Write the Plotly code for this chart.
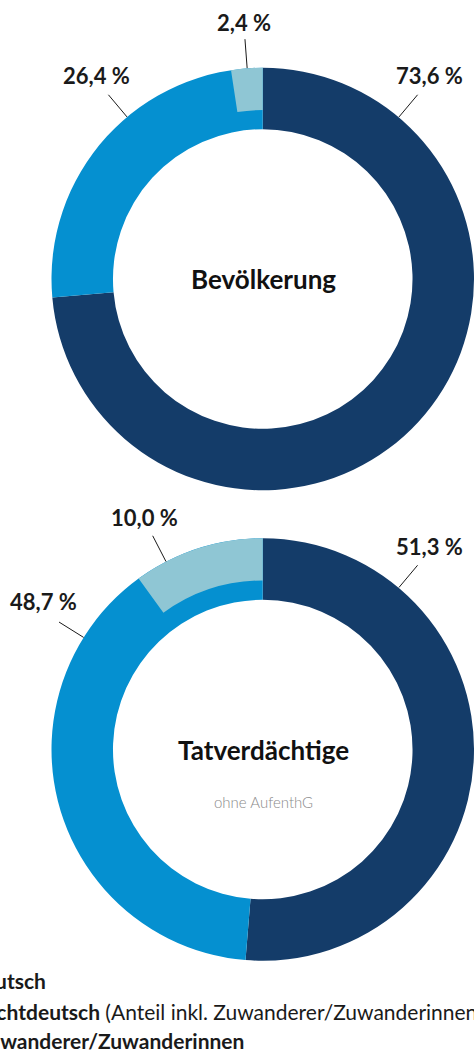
import math
import plotly.graph_objects as go

# ---- data ----
categories = ["Deutsch", "Nichtdeutsch", "Zuwanderer/Zuwanderinnen"]
chart_titles = ["Bevölkerung", "Tatverdächtige"]
chart_subtitles = ["", "ohne AufenthG"]
deutsch = [73.6, 51.3]
nichtdeutsch = [26.4, 48.7]
zuwanderer = [2.4, 10.0]
legend_suffix = ["", " (Anteil inkl. Zuwanderer/Zuwanderinnen)", ""]

# ---- style / layout ----
W, H = 474, 1060
C_DE = "#143c69"
C_ND = "#0590d0"
C_ZU = "#8fc6d4"
FONT = "Lato"
centers = [(263, 279), (263, 749.5)]
R = 211.5
HOLE = 0.709
ZU_HOLE = 0.80
# label leader-line angles (deg clockwise from top) per chart: de, nd, zu
label_angles = [(40, -40, -4.3), (40, -58, -27.3)]
LINE_LEN = 29


def X(px):
    return px / W


def Y(py):
    return 1 - py / H


def fmt(v):
    return f"{v:.1f}".replace(".", ",") + " %"


fig = go.Figure()
shapes = []
annotations = []

for i in range(2):
    cx, cy = centers[i]
    dom_x = [X(cx - R), min(1.0, X(cx + R))]
    dom_y = [Y(cy + R), Y(cy - R)]
    fig.add_trace(go.Pie(
        values=[deutsch[i], nichtdeutsch[i]],
        labels=categories[:2],
        marker=dict(colors=[C_DE, C_ND], line=dict(width=0)),
        hole=HOLE, sort=False, direction="clockwise", rotation=0,
        textinfo="none", hoverinfo="label+value", showlegend=False,
        domain=dict(x=dom_x, y=dom_y),
    ))
    fig.add_trace(go.Pie(
        values=[100 - zuwanderer[i], zuwanderer[i]],
        labels=["", categories[2]],
        marker=dict(colors=["rgba(0,0,0,0)", C_ZU], line=dict(width=0)),
        hole=ZU_HOLE, sort=False, direction="clockwise", rotation=0,
        textinfo="none", hoverinfo="skip", showlegend=False,
        domain=dict(x=dom_x, y=dom_y),
    ))

    for val, ang in zip([deutsch[i], nichtdeutsch[i], zuwanderer[i]], label_angles[i]):
        a = math.radians(ang)
        s, c = math.sin(a), math.cos(a)
        x0, y0 = cx + R * s, cy - R * c
        x1, y1 = cx + (R + LINE_LEN) * s, cy - (R + LINE_LEN) * c
        shapes.append(dict(type="line", xref="paper", yref="paper",
                           x0=X(x0), y0=Y(y0), x1=X(x1), y1=Y(y1),
                           line=dict(color="#1a1a1a", width=1)))
        tx = x1 + 18 * s
        ty = y1 - (16 + 5 * abs(s))
        annotations.append(dict(x=X(tx), y=Y(ty), xref="paper", yref="paper",
                                text=f"<b>{fmt(val)}</b>", showarrow=False,
                                xanchor="center", yanchor="middle",
                                font=dict(family=FONT, size=22, color="#1a1a1a")))

    annotations.append(dict(x=X(cx), y=Y(cy), xref="paper", yref="paper",
                            text=f"<b>{chart_titles[i]}</b>", showarrow=False,
                            xanchor="center", yanchor="middle",
                            font=dict(family=FONT, size=26, color="#111111")))
    if chart_subtitles[i]:
        annotations.append(dict(x=X(cx), y=Y(cy + 52), xref="paper", yref="paper",
                                text=chart_subtitles[i], showarrow=False,
                                xanchor="center", yanchor="middle",
                                font=dict(family=FONT, size=15, color="#8a8a8a", weight=300)))

# legend (partly cut off at the left edge, as in the reference)
legend_y = [980, 1011, 1040]
legend_x = [-34, -27, -26]
legend_colors = [C_DE, C_ND, C_ZU]
for k in range(3):
    annotations.append(dict(x=X(legend_x[k] - 30), y=Y(legend_y[k]), xref="paper", yref="paper",
                            text="■", showarrow=False, xanchor="left", yanchor="middle",
                            font=dict(family=FONT, size=20, color=legend_colors[k])))
    annotations.append(dict(x=X(legend_x[k]), y=Y(legend_y[k]), xref="paper", yref="paper",
                            text=f"<b>{categories[k]}</b>{legend_suffix[k]}", showarrow=False,
                            xanchor="left", yanchor="middle",
                            font=dict(family=FONT, size=21, color="#1a1a1a")))

fig.update_layout(
    width=W, height=H,
    margin=dict(l=0, r=0, t=0, b=0),
    paper_bgcolor="white", plot_bgcolor="white",
    shapes=shapes, annotations=annotations,
    showlegend=False,
)

fig.write_html("out.html", config={"displayModeBar": False},
               post_script="document.body.style.margin='0';document.body.style.overflow='hidden';")
